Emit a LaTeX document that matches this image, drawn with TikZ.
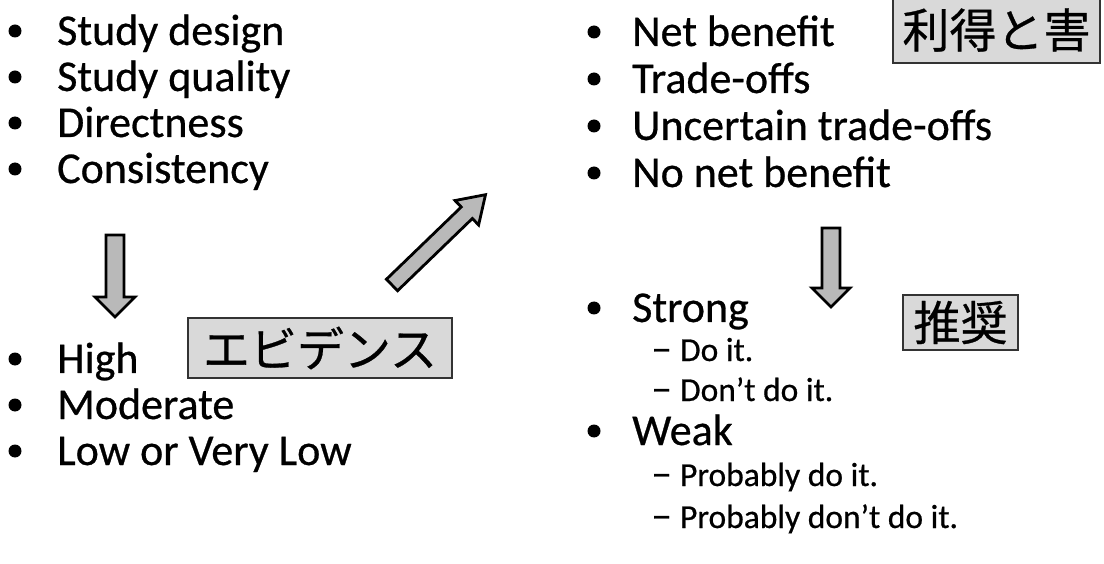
\documentclass[tikz,border=0pt]{standalone}
\usepackage{fontspec}
\setmainfont{Carlito}[FakeBold=0.6]
\newfontfamily\jpfont{Noto Sans CJK JP}[FakeBold=0.6]
\begin{document}
\begin{tikzpicture}[x=1pt,y=-1pt,
  item/.style={anchor=base west, inner sep=0pt, font=\fontsize{44}{50}\selectfont},
  subitem/.style={anchor=base west, inner sep=0pt, font=\fontsize{33.5}{38}\selectfont},
  dot/.style={circle, fill=black, inner sep=0pt, minimum size=13pt},
  tag/.style={draw=black!80, line width=1.6pt, fill=gray!30, inner sep=0pt,
    font=\jpfont\fontsize{47}{50}\selectfont},
  blockarrow/.style={draw=black, line width=2.8pt, fill=gray!55, line join=miter}]
\useasboundingbox (0,0) rectangle (1104,564);

% evidence criteria
\foreach \y/\t [count=\i] in {45/Study design, 91/Study quality, 137/Directness, 183/Consistency} {
  \node[dot] (ld\i) at (15,\y-14) {};
  \node[item] (lt\i) at (57,\y) {\t};
}
% evidence grades
\foreach \y/\t [count=\i] in {373/High, 419/Moderate, 465/Low or Very Low} {
  \node[dot] (gd\i) at (15,\y-14) {};
  \node[item] (gt\i) at (57,\y) {\t};
}
% balance of benefits and harms
\foreach \y/\t [count=\i] in {46/Net benefit, 93/Trade-offs, 140/Uncertain trade-offs, 187/No net benefit} {
  \node[dot] (rd\i) at (594,\y-14) {};
  \node[item] (rt\i) at (632,\y) {\t};
}
% recommendation strength
\node[dot] (sd) at (594,308) {};
\node[item] (strong) at (632,322) {Strong};
\node[subitem] (s1) at (651,361) {\scalebox{1.25}[1.15]{–}\hspace{8pt}Do it.};
\node[subitem] (s2) at (651,401) {\scalebox{1.25}[1.15]{–}\hspace{8pt}Don’t do it.};
\node[dot] (wd) at (594,431) {};
\node[item] (weak) at (632,445) {Weak};
\node[subitem] (w1) at (651,486) {\scalebox{1.25}[1.15]{–}\hspace{8pt}Probably do it.};
\node[subitem] (w2) at (651,528) {\scalebox{1.25}[1.15]{–}\hspace{8pt}Probably don’t do it.};

% labels
\node[tag, minimum width=207pt, minimum height=66pt] (harm) at (996.5,30) {利得と害};
\node[tag, minimum width=264pt, minimum height=60pt] (evid) at (320,348) {エビデンス};
\node[tag, minimum width=115pt, minimum height=55pt] (reco) at (960.5,322.5) {推奨};

% block arrows
\draw[blockarrow] (106,235) -- (124,235) -- (124,297) -- (135,297) -- (115,317)
  -- (95,297) -- (106,297) -- cycle;
\draw[blockarrow] (822,228) -- (840,228) -- (840,288) -- (850,288) -- (831,307)
  -- (812,288) -- (822,288) -- cycle;
\begin{scope}[shift={(392,285)}, rotate=44]
\draw[blockarrow] (0,-8) -- (104,-8) -- (104,-17) -- (130,0) -- (104,17)
  -- (104,8) -- (0,8) -- cycle;
\end{scope}
\end{tikzpicture}
\end{document}
